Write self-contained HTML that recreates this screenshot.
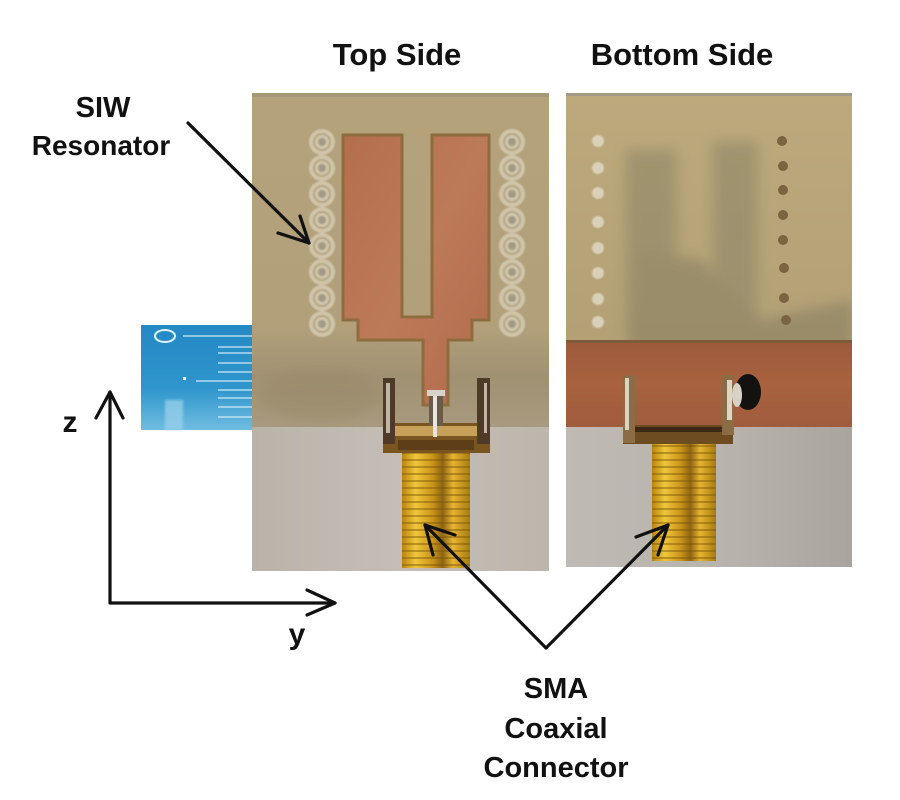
<!DOCTYPE html>
<html><head><meta charset="utf-8"><style>
html,body{margin:0;padding:0;background:#fff;}
svg{display:block;}
text{font-family:"Liberation Sans","DejaVu Sans",sans-serif;font-weight:bold;fill:#111;}
</style></head><body>
<svg width="900" height="800" viewBox="0 0 900 800" xmlns="http://www.w3.org/2000/svg">
<defs>
<filter id="bl" x="-20%" y="-20%" width="140%" height="140%"><feGaussianBlur stdDeviation="6"/></filter>
<filter id="bl2"><feGaussianBlur stdDeviation="1.2"/></filter>
<filter id="bl3" x="-10%" y="-10%" width="120%" height="120%"><feGaussianBlur stdDeviation="0.9"/></filter>
<clipPath id="clipB"><rect x="566" y="96" width="286" height="244"/></clipPath>
<clipPath id="clipT"><rect x="252" y="93" width="297" height="334"/></clipPath>
<linearGradient id="boardT" x1="0" y1="0" x2="0" y2="1">
<stop offset="0" stop-color="#b4a27b"/><stop offset="0.7" stop-color="#b1a07a"/><stop offset="0.85" stop-color="#a19173"/><stop offset="1" stop-color="#a89a7e"/>
</linearGradient>
<linearGradient id="grayT" x1="0" y1="0" x2="1" y2="0">
<stop offset="0" stop-color="#b9b3aa"/><stop offset="0.5" stop-color="#c4beb6"/><stop offset="1" stop-color="#bdb6ad"/>
</linearGradient>
<linearGradient id="grayB" x1="0" y1="0" x2="1" y2="0">
<stop offset="0" stop-color="#bfbab3"/><stop offset="0.6" stop-color="#b7b2ab"/><stop offset="1" stop-color="#a9a49e"/>
</linearGradient>
<linearGradient id="boardB" x1="0" y1="0" x2="0" y2="1">
<stop offset="0" stop-color="#bca97c"/><stop offset="1" stop-color="#b3a075"/>
</linearGradient>
<linearGradient id="cu" x1="0" y1="0" x2="1" y2="1">
<stop offset="0" stop-color="#b46e4e"/><stop offset="0.5" stop-color="#bd7a58"/><stop offset="1" stop-color="#b06a4b"/>
</linearGradient>
<linearGradient id="cuB" x1="0" y1="0" x2="0" y2="1">
<stop offset="0" stop-color="#9c5a3c"/><stop offset="0.5" stop-color="#a8623f"/><stop offset="1" stop-color="#a05c3d"/>
</linearGradient>
<linearGradient id="gold" x1="0" y1="0" x2="1" y2="0">
<stop offset="0" stop-color="#b8860f"/><stop offset="0.2" stop-color="#f0c63a"/><stop offset="0.45" stop-color="#c9951a"/><stop offset="0.6" stop-color="#8e6512"/><stop offset="0.75" stop-color="#e6b530"/><stop offset="1" stop-color="#a87a12"/>
</linearGradient>
<linearGradient id="ruler" x1="0" y1="0" x2="0" y2="1">
<stop offset="0" stop-color="#2489c4"/><stop offset="0.6" stop-color="#2f95cc"/><stop offset="1" stop-color="#6fbde0"/>
</linearGradient>
<pattern id="thread" width="8" height="7" patternUnits="userSpaceOnUse">
<rect width="8" height="7" fill="none"/><rect y="4" width="8" height="2" fill="#7a5508" opacity="0.45"/>
</pattern>
</defs>

<!-- Blue ruler -->
<rect x="141" y="325" width="112" height="105" fill="url(#ruler)"/>
<ellipse cx="165" cy="336" rx="10" ry="6" fill="none" stroke="#dff3ff" stroke-width="2"/>
<g stroke="#cfeaf8" stroke-width="1.2">
<line x1="183" y1="336" x2="252" y2="336"/>
<line x1="218" y1="347" x2="252" y2="347"/>
<line x1="218" y1="353" x2="252" y2="353"/>
<line x1="218" y1="363" x2="252" y2="363"/>
<line x1="218" y1="372" x2="252" y2="372"/>
<line x1="196" y1="381" x2="252" y2="381"/>
<line x1="218" y1="390" x2="252" y2="390"/>
<line x1="218" y1="398" x2="252" y2="398"/>
<line x1="218" y1="407" x2="252" y2="407"/>
<line x1="218" y1="417" x2="252" y2="417"/>
</g>
<rect x="183" y="377" width="3" height="3" fill="#eaf7ff"/>
<rect x="165" y="400" width="18" height="30" fill="#9fd3ec" opacity="0.7" filter="url(#bl2)"/>

<!-- TOP SIDE photo -->
<rect x="252" y="93" width="297" height="334" fill="url(#boardT)"/>
<rect x="252" y="427" width="297" height="144" fill="url(#grayT)"/>
<g clip-path="url(#clipT)">
<ellipse cx="320" cy="395" rx="60" ry="25" fill="#988868" opacity="0.5" filter="url(#bl)"/>
</g>
<rect x="252" y="93" width="297" height="4" fill="#9d8f72" opacity="0.6"/>
<!-- vias left/right -->
<g filter="url(#bl3)">
<g fill="#d6ccb2" opacity="0.85">
<circle cx="322" cy="142" r="13"/><circle cx="322" cy="168" r="13"/><circle cx="322" cy="194" r="13"/><circle cx="322" cy="220" r="13"/><circle cx="322" cy="246" r="13"/><circle cx="322" cy="272" r="13"/><circle cx="322" cy="298" r="13"/><circle cx="322" cy="324" r="13"/>
<circle cx="512" cy="142" r="13"/><circle cx="512" cy="168" r="13"/><circle cx="512" cy="194" r="13"/><circle cx="512" cy="220" r="13"/><circle cx="512" cy="246" r="13"/><circle cx="512" cy="272" r="13"/><circle cx="512" cy="298" r="13"/><circle cx="512" cy="324" r="13"/>
</g>
<g fill="none" stroke="#b3a684" stroke-width="2">
<circle cx="322" cy="142" r="8"/><circle cx="322" cy="168" r="8"/><circle cx="322" cy="194" r="8"/><circle cx="322" cy="220" r="8"/><circle cx="322" cy="246" r="8"/><circle cx="322" cy="272" r="8"/><circle cx="322" cy="298" r="8"/><circle cx="322" cy="324" r="8"/>
<circle cx="512" cy="142" r="8"/><circle cx="512" cy="168" r="8"/><circle cx="512" cy="194" r="8"/><circle cx="512" cy="220" r="8"/><circle cx="512" cy="246" r="8"/><circle cx="512" cy="272" r="8"/><circle cx="512" cy="298" r="8"/><circle cx="512" cy="324" r="8"/>
</g>
<g fill="#a29a86">
<circle cx="322" cy="142" r="4"/><circle cx="322" cy="168" r="4"/><circle cx="322" cy="194" r="4"/><circle cx="322" cy="220" r="4"/><circle cx="322" cy="246" r="4"/><circle cx="322" cy="272" r="4"/><circle cx="322" cy="298" r="4"/><circle cx="322" cy="324" r="4"/>
<circle cx="512" cy="142" r="4"/><circle cx="512" cy="168" r="4"/><circle cx="512" cy="194" r="4"/><circle cx="512" cy="220" r="4"/><circle cx="512" cy="246" r="4"/><circle cx="512" cy="272" r="4"/><circle cx="512" cy="298" r="4"/><circle cx="512" cy="324" r="4"/>
</g>
</g>
<!-- patch -->
<polygon points="343,135 402,135 402,317 432,317 432,135 489,135 489,320 472,320 472,340 448,340 448,405 423,405 423,340 358,340 358,320 343,320" fill="url(#cu)" stroke="#8e6c3e" stroke-width="3" stroke-linejoin="miter"/>

<!-- top SMA -->
<rect x="402" y="452" width="68" height="116" fill="url(#gold)"/>
<rect x="402" y="452" width="68" height="116" fill="url(#thread)"/>
<rect x="383" y="423" width="107" height="30" fill="#7a5520"/>
<rect x="387" y="426" width="99" height="10" fill="#c7a15a"/>
<rect x="398" y="440" width="76" height="10" fill="#5d3e18"/>
<rect x="383" y="378" width="12" height="66" fill="#4e3a26"/>
<rect x="386" y="383" width="4" height="50" fill="#bfb6a8"/>
<rect x="477" y="378" width="13" height="66" fill="#4e3a26"/>
<rect x="484" y="383" width="3" height="50" fill="#bfb6a8"/>
<rect x="429" y="392" width="14" height="34" fill="#6a5a48"/>
<rect x="433" y="392" width="4" height="45" fill="#e8e6e2"/>
<rect x="427" y="390" width="18" height="6" fill="#d8d4cc"/>

<!-- BOTTOM SIDE photo -->
<rect x="566" y="93" width="286" height="247" fill="url(#boardB)"/>
<rect x="566" y="93" width="286" height="3" fill="#a49a86"/>
<g clip-path="url(#clipB)">
<g filter="url(#bl)" opacity="0.55">
<rect x="626" y="150" width="50" height="190" fill="#8b8466"/>
<rect x="713" y="142" width="44" height="198" fill="#8b8466"/>
<polygon points="640,250 700,260 760,320 852,300 852,350 630,350" fill="#857d60"/>
</g>
</g>
<g fill="#e2dcc8" opacity="0.8" filter="url(#bl3)">
<circle cx="598" cy="141" r="6"/><circle cx="598" cy="168" r="6"/><circle cx="598" cy="193" r="6"/><circle cx="598" cy="222" r="6"/><circle cx="598" cy="248" r="6"/><circle cx="598" cy="273" r="6"/><circle cx="598" cy="299" r="6"/><circle cx="598" cy="322" r="6"/>
</g>
<g fill="#7a6440">
<circle cx="782" cy="141" r="5"/><circle cx="783" cy="166" r="5"/><circle cx="783" cy="190" r="5"/><circle cx="783" cy="215" r="5"/><circle cx="783" cy="240" r="5"/><circle cx="784" cy="268" r="5"/><circle cx="784" cy="298" r="5"/><circle cx="786" cy="320" r="5"/>
</g>
<rect x="566" y="340" width="286" height="87" fill="url(#cuB)"/>
<rect x="566" y="340" width="286" height="3" fill="#7d5a3a"/>
<rect x="566" y="427" width="286" height="140" fill="url(#grayB)"/>
<!-- bottom SMA -->
<rect x="652" y="443" width="64" height="118" fill="url(#gold)"/>
<rect x="652" y="443" width="64" height="118" fill="url(#thread)"/>
<rect x="623" y="425" width="110" height="19" fill="#6e4c22"/>
<rect x="635" y="427" width="88" height="5" fill="#3e2a14"/>
<rect x="623" y="375" width="12" height="68" fill="#8a6d45"/>
<rect x="625" y="378" width="4" height="52" fill="#d9d2c5"/>
<rect x="722" y="375" width="12" height="60" fill="#8a6d45"/>
<rect x="727" y="380" width="5" height="40" fill="#ddd6c8"/>
<ellipse cx="748" cy="392" rx="13" ry="18" fill="#141210"/>
<ellipse cx="737" cy="395" rx="5" ry="12" fill="#d8d2c6"/>

<!-- Labels -->
<text x="397" y="65" font-size="31" text-anchor="middle">Top Side</text>
<text x="682" y="65" font-size="31" text-anchor="middle">Bottom Side</text>
<text x="103" y="117" font-size="29" text-anchor="middle">SIW</text>
<text x="101" y="155" font-size="28" text-anchor="middle">Resonator</text>
<text x="556" y="698" font-size="29" text-anchor="middle">SMA</text>
<text x="556" y="738" font-size="29" text-anchor="middle">Coaxial</text>
<text x="556" y="777" font-size="29" text-anchor="middle">Connector</text>
<text x="70" y="432" font-size="30" text-anchor="middle">z</text>
<text x="297" y="644" font-size="30" text-anchor="middle">y</text>

<!-- Arrows -->
<g stroke="#111" stroke-width="3.2" fill="none" stroke-linecap="round" stroke-linejoin="round">
<line x1="188" y1="123" x2="309" y2="243"/>
<polyline points="278,233 309,243 300,216"/>
<polyline points="425,525 546,648 668,525"/>
<polyline points="455,535 425,525 433,555"/>
<polyline points="636,537 668,525 658,555"/>
<polyline points="110,392 110,603 335,603"/>
<polyline points="96,418 110,392 123,418"/>
<polyline points="307,590 335,603 307,615"/>
</g>
</svg>
</body></html>
